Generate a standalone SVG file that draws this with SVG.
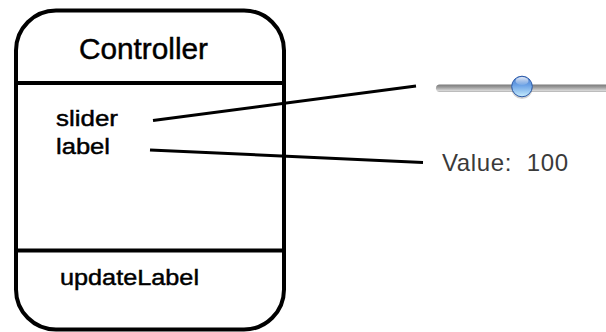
<svg xmlns="http://www.w3.org/2000/svg" width="606" height="332" viewBox="0 0 606 332">
<style>
.box{fill:#fff;stroke:#000;stroke-width:4}
.div{stroke:#000;stroke-width:4}
.conn{stroke:#000;stroke-width:3;stroke-linecap:butt;fill:none}
.t{font-family:"Liberation Sans",Arial,Helvetica,sans-serif;fill:#000;stroke:#000;stroke-width:0.45}
.v{font-family:"Liberation Sans",Arial,Helvetica,sans-serif;fill:#3a3a3a}
</style>
<defs>
<linearGradient id="track" x1="0" y1="0" x2="0" y2="1">
<stop offset="0" stop-color="#7a7a7a"/>
<stop offset="0.35" stop-color="#9a9a9a"/>
<stop offset="0.8" stop-color="#d4d4d4"/>
<stop offset="1" stop-color="#b0b0b0"/>
</linearGradient>
<linearGradient id="knob" x1="0" y1="0" x2="0" y2="1">
<stop offset="0" stop-color="#3f73c8"/>
<stop offset="0.45" stop-color="#6da3e6"/>
<stop offset="1" stop-color="#c6ecfd"/>
</linearGradient>
<linearGradient id="gloss" x1="0" y1="0" x2="0" y2="1">
<stop offset="0" stop-color="#fff" stop-opacity="0.85"/>
<stop offset="1" stop-color="#fff" stop-opacity="0.1"/>
</linearGradient>
</defs>

<g id="controller">
<rect class="box" x="16" y="10.5" width="268" height="319" rx="40" ry="40"/>
<line class="div" x1="16" y1="83" x2="284" y2="83"/>
<line class="div" x1="16" y1="250.5" x2="284" y2="250.5"/>
<text class="t" x="79" y="59" font-size="29" textLength="129" lengthAdjust="spacingAndGlyphs">Controller</text>
<text class="t" x="56" y="126" font-size="22" textLength="62" lengthAdjust="spacingAndGlyphs">slider</text>
<text class="t" x="56" y="153.5" font-size="22" textLength="54" lengthAdjust="spacingAndGlyphs">label</text>
<text class="t" x="60" y="285" font-size="22" textLength="139" lengthAdjust="spacingAndGlyphs">updateLabel</text>
</g>

<g id="slider">
<rect x="436" y="84.5" width="175" height="7.5" rx="3.7" fill="url(#track)"/>
<ellipse cx="522" cy="88.5" rx="10.5" ry="10.5" fill="#000" opacity="0.18"/>
<circle cx="522" cy="86.5" r="10.3" fill="url(#knob)" stroke="#2c5aa8" stroke-width="1"/>
<ellipse cx="522" cy="81" rx="6.5" ry="4" fill="url(#gloss)"/>
</g>

<g id="valueLabel">
<text class="v" x="442" y="170.5" font-size="24" xml:space="preserve" textLength="126" lengthAdjust="spacing">Value:  100</text>
</g>

<g id="connectors">
<line class="conn" x1="153" y1="120.5" x2="416" y2="86"/>
<line class="conn" x1="150" y1="150" x2="423" y2="162.5"/>
</g>
</svg>
